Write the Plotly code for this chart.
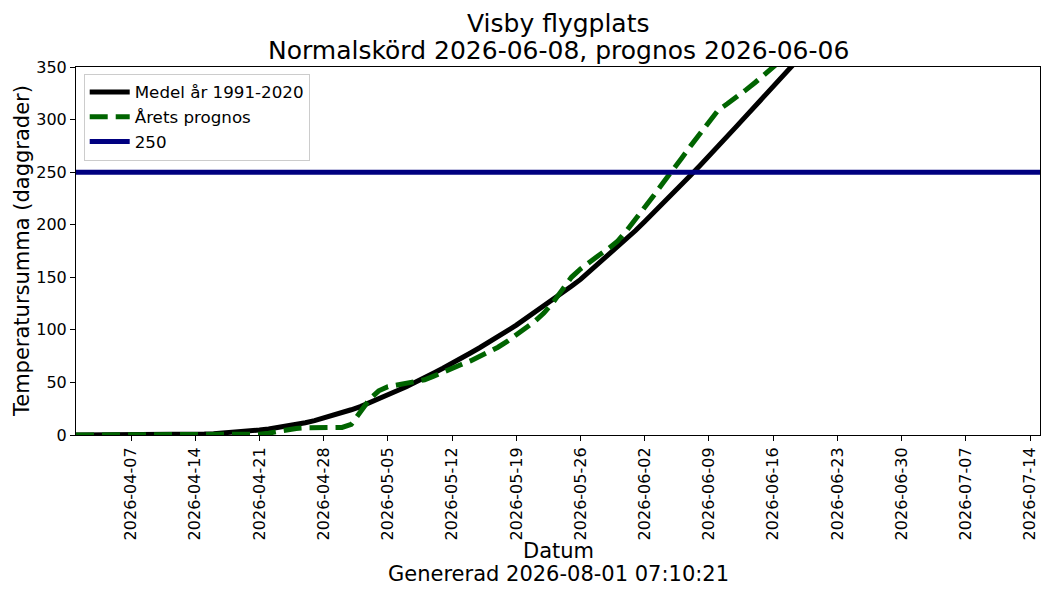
import pandas as pd
import plotly.graph_objects as go

# Temperature sums (degree days), one value per day from 2026-04-01
start_date = "2026-04-01"
end_date = "2026-07-15 02:00"

mean_1991_2020 = [
    0, 0, 0, 0, 0, 0, 0, 0, 0, 0,
    0.1, 0.2, 0.4, 0.6, 0.9, 1.3, 1.8, 2.4, 3.1, 3.9,
    4.8, 5.8, 7.0, 8.3, 9.8, 11.6, 13.6, 16.0, 18.5, 21,
    24, 27, 30.5, 34, 38, 42, 46, 50, 54.5, 59,
    63.5, 68, 73, 78, 83, 88, 93.5, 99, 104.5, 110.5,
    116.5, 122.5, 129, 135, 141.5, 148, 155.5, 163, 170.5, 178,
    186, 194.5, 203, 211.5, 220, 229, 238, 247, 256, 265,
    274.5, 284, 293.5, 303, 312.5, 322, 331.5, 341, 350.5, 360,
    369.5,
]

forecast = [
    0, 0, 0, 0, 0, 0, 0, 0, 0, 0,
    0, 0, 0, 0, 0, 0, 0, 0, 0, 0.3,
    0.8, 1.8, 3.5, 5, 6.2, 6.8, 7, 7, 7, 7.2,
    10, 22, 34, 42, 46, 47.5, 49, 50.5, 52.5, 56,
    60, 64, 67, 70.5, 74.5, 79, 83.5, 89, 95, 101,
    108, 116, 126, 138, 150, 158, 165, 171, 177, 184,
    194, 205, 216, 228, 240, 251, 263, 275, 287, 299,
    309, 315, 321, 328, 335, 343, 351, 358, 365,
]

threshold = 250

mean_dates = pd.date_range(start_date, periods=len(mean_1991_2020), freq="D")
forecast_dates = pd.date_range(start_date, periods=len(forecast), freq="D")
tick_dates = pd.date_range("2026-04-07", "2026-07-14", freq="7D")

fig = go.Figure()
fig.add_trace(go.Scatter(x=mean_dates, y=mean_1991_2020, mode="lines",
                         name="Medel år 1991-2020",
                         line=dict(color="black", width=5)))
fig.add_trace(go.Scatter(x=forecast_dates, y=forecast, mode="lines",
                         name="Årets prognos",
                         line=dict(color="darkgreen", width=5, dash="18px,8px")))
fig.add_trace(go.Scatter(x=[start_date, end_date], y=[threshold, threshold],
                         mode="lines", name=str(threshold),
                         line=dict(color="navy", width=5)))

font = "DejaVu Sans, Arial, sans-serif"
# the page body adds an 8px offset, so margins are shifted to compensate
fig.update_layout(
    width=1050, height=600,
    margin=dict(l=68, r=18, t=59, b=173, autoexpand=False),
    paper_bgcolor="white", plot_bgcolor="white",
    font=dict(family=font, size=16, color="black"),
    showlegend=True,
    legend=dict(x=0.008, y=0.982, xanchor="left", yanchor="top",
                bgcolor="rgba(255,255,255,0.8)", bordercolor="#cccccc",
                borderwidth=1, font=dict(size=16.7), itemwidth=40),
    xaxis=dict(range=[start_date, end_date], tickvals=tick_dates,
               ticktext=[d.strftime("%Y-%m-%d") for d in tick_dates],
               tickangle=-90, ticks="outside", ticklen=5, tickcolor="black",
               showline=True, linecolor="black", linewidth=1, mirror=True,
               showgrid=False, zeroline=False, automargin=False),
    yaxis=dict(range=[0, 350], dtick=50, ticks="outside", ticklen=5,
               tickcolor="black", showline=True, linecolor="black",
               linewidth=1, mirror=True, showgrid=False, zeroline=False,
               automargin=False),
    annotations=[
        dict(text="Visby flygplats", xref="paper", yref="paper",
             x=0.5, y=1.117, xanchor="center", yanchor="middle",
             showarrow=False, font=dict(size=25)),
        dict(text="Normalskörd 2026-06-08, prognos 2026-06-06", xref="paper",
             yref="paper", x=0.5, y=1.046, xanchor="center", yanchor="middle",
             showarrow=False, font=dict(size=25)),
        dict(text="Temperatursumma (daggrader)", xref="paper", yref="paper",
             x=-0.056, y=0.5, xanchor="center", yanchor="middle",
             textangle=-90, showarrow=False, font=dict(size=21)),
        dict(text="Datum", xref="paper", yref="paper",
             x=0.5, y=-0.315, xanchor="center", yanchor="middle",
             showarrow=False, font=dict(size=21)),
        dict(text="Genererad 2026-08-01 07:10:21", xref="paper", yref="paper",
             x=0.5, y=-0.378, xanchor="center", yanchor="middle",
             showarrow=False, font=dict(size=21)),
    ],
)

fig.write_html("out.html")
